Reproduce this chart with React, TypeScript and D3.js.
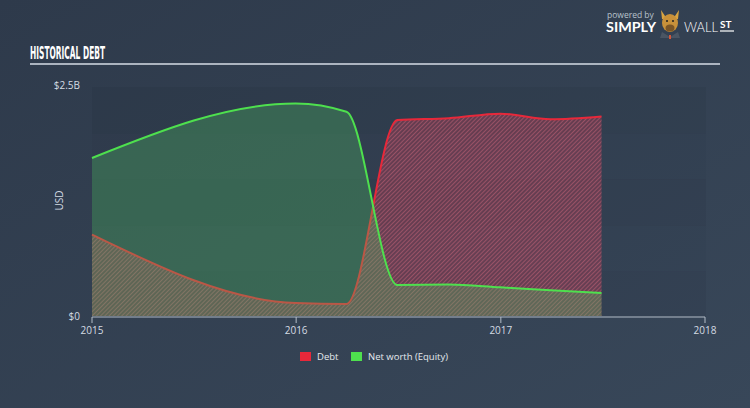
import React from "react";
import * as d3 from "d3";

const dates = ["2015-01-01", "2015-12-31", "2016-03-31", "2016-06-30", "2016-09-30", "2016-12-31", "2017-03-31", "2017-06-30"];
const debt = [0.88, 0.14, 0.13, 2.12, 2.14, 2.19, 2.13, 2.16];
const equity = [1.71, 2.3, 2.21, 0.335, 0.34, 0.31, 0.28, 0.25];
const xTicks = ["2015", "2016", "2017", "2018"];
const yTicks = [0, 2.5];
const yTickLabels = ["$0", "$2.5B"];
const legendItems = ["Debt", "Net worth (Equity)"];
const legendColors = ["#e8283a", "#4ee04e"];

const W = 750, H = 408;
const left = 92, right = 705, top = 85, bottom = 316;

export default function App() {
  const parse = d3.timeParse("%Y-%m-%d");
  const x = d3.scaleTime().domain([new Date(2015, 0, 1), new Date(2018, 0, 1)]).range([left, right]);
  const y = d3.scaleLinear().domain([0, 2.5]).range([bottom, top]);
  const pts = dates.map((d, i) => ({ t: parse(d)!, debt: debt[i], eq: equity[i] }));

  const debtArea = d3.area<any>().x(d => x(d.t)).y0(y(0)).y1(d => y(d.debt)).curve(d3.curveMonotoneX)(pts)!;
  const debtLine = d3.line<any>().x(d => x(d.t)).y(d => y(d.debt)).curve(d3.curveMonotoneX)(pts)!;
  const eqArea = d3.area<any>().x(d => x(d.t)).y0(y(0)).y1(d => y(d.eq)).curve(d3.curveMonotoneX)(pts)!;
  const eqLine = d3.line<any>().x(d => x(d.t)).y(d => y(d.eq)).curve(d3.curveMonotoneX)(pts)!;

  const bandH = (bottom - top) / 5;
  const bands = d3.range(5);

  return (
    <svg width={W} height={H} style={{ position: "absolute", left: 0, top: 0, display: "block" }}
      fontFamily="'Open Sans', 'DejaVu Sans', sans-serif">
      <defs>
        <linearGradient id="bg" x1="0" y1="0" x2="1" y2="1">
          <stop offset="0" stopColor="#2e3a4b" />
          <stop offset="1" stopColor="#384759" />
        </linearGradient>
        <pattern id="hatch" patternUnits="userSpaceOnUse" width="3" height="3" patternTransform="rotate(45)">
          <rect width="3" height="3" fill="rgba(225,60,85,0.3)" />
          <line x1="0" y1="0" x2="0" y2="3" stroke="rgba(255,125,145,0.55)" strokeWidth="1.2" />
        </pattern>
      </defs>
      <rect width={W} height={H} fill="url(#bg)" />

      {/* title */}
      <text x={30} y={59} fill="#ffffff" fontFamily="'DejaVu Sans Condensed', 'DejaVu Sans', sans-serif"
        fontWeight="bold" fontSize={17} textLength={75} lengthAdjust="spacingAndGlyphs">HISTORICAL DEBT</text>
      <line x1={30} x2={720} y1={64} y2={64} stroke="#d6dde6" strokeWidth={1.5} />

      {/* logo */}
      <text x={607} y={18} fill="#b8c2cc" fontSize={8.5}>powered by</text>
      <text x={606} y={32} fill="#ffffff" fontSize={13} fontWeight="bold" fontFamily="Lato, 'Open Sans', sans-serif" textLength={50} lengthAdjust="spacingAndGlyphs">SIMPLY</text>
      <g>
        <path d="M661 10 L665 16 L675 16 L679 10 L678 19 L662 19 Z" fill="#d9a441" />
        <ellipse cx={670} cy={23} rx={8} ry={9} fill="#c8913a" />
        <ellipse cx={670} cy={28} rx={4.5} ry={3.5} fill="#7a5526" />
        <circle cx={667} cy={21} r={1} fill="#222" />
        <circle cx={673} cy={21} r={1} fill="#222" />
        <path d="M660 38 L662 32 L670 37 L678 32 L680 38 Z" fill="#4a5563" />
        <path d="M669 35 L671 35 L671 39 L669 39 Z" fill="#d2553a" />
      </g>
      <text x={684} y={32} fill="#ffffff" fontSize={13} fontFamily="Lato, 'Open Sans', sans-serif" fontWeight={300} textLength={34} lengthAdjust="spacingAndGlyphs">WALL</text>
      <text x={720} y={28} fill="#ffffff" fontSize={10} fontWeight="bold" fontFamily="Lato, sans-serif">ST</text>
      <line x1={720} x2={734} y1={31} y2={31} stroke="#ffffff" strokeWidth={1.2} />

      {/* plot background bands */}
      {bands.map(i => (
        <rect key={i} x={left} y={top + 2 + i * bandH} width={right - left + 1} height={bandH}
          fill={i % 2 === 0 ? "rgba(20,28,40,0.09)" : "rgba(20,28,40,0.04)"} />
      ))}

      {/* series */}
      <path d={debtArea} fill="url(#hatch)" />
      <path d={debtLine} fill="none" stroke="#e8283a" strokeWidth={2} />
      <path d={eqArea} fill="rgba(80,200,100,0.3)" />
      <path d={eqLine} fill="none" stroke="#4ee04e" strokeWidth={2} />

      {/* x axis */}
      <line x1={left} x2={right} y1={bottom + 1} y2={bottom + 1} stroke="#b4bec9" strokeWidth={1} />
      {xTicks.map(t => {
        const xp = x(new Date(+t, 0, 1));
        return (
          <g key={t}>
            <line x1={xp} x2={xp} y1={bottom + 1} y2={bottom + 7} stroke="#b4bec9" />
            <text x={xp} y={334} textAnchor="middle" fill="#d4dbe3" fontSize={10}>{t}</text>
          </g>
        );
      })}

      {/* y axis */}
      {yTicks.map((v, i) => (
        <text key={v} x={80} y={y(v) + 3.5} textAnchor="end" fill="#d4dbe3" fontSize={10}>{yTickLabels[i]}</text>
      ))}
      <text transform={`translate(63,${(top + bottom) / 2}) rotate(-90)`} textAnchor="middle" fill="#d4dbe3" fontSize={10}>USD</text>

      {/* legend */}
      {legendItems.map((name, i) => {
        const lx = i === 0 ? 300 : 351;
        return (
          <g key={name}>
            <rect x={lx} y={352} width={11} height={9} fill={legendColors[i]} />
            <text x={lx + 17} y={360} fill="#e4e9ee" fontSize={9.5}>{name}</text>
          </g>
        );
      })}
    </svg>
  );
}
